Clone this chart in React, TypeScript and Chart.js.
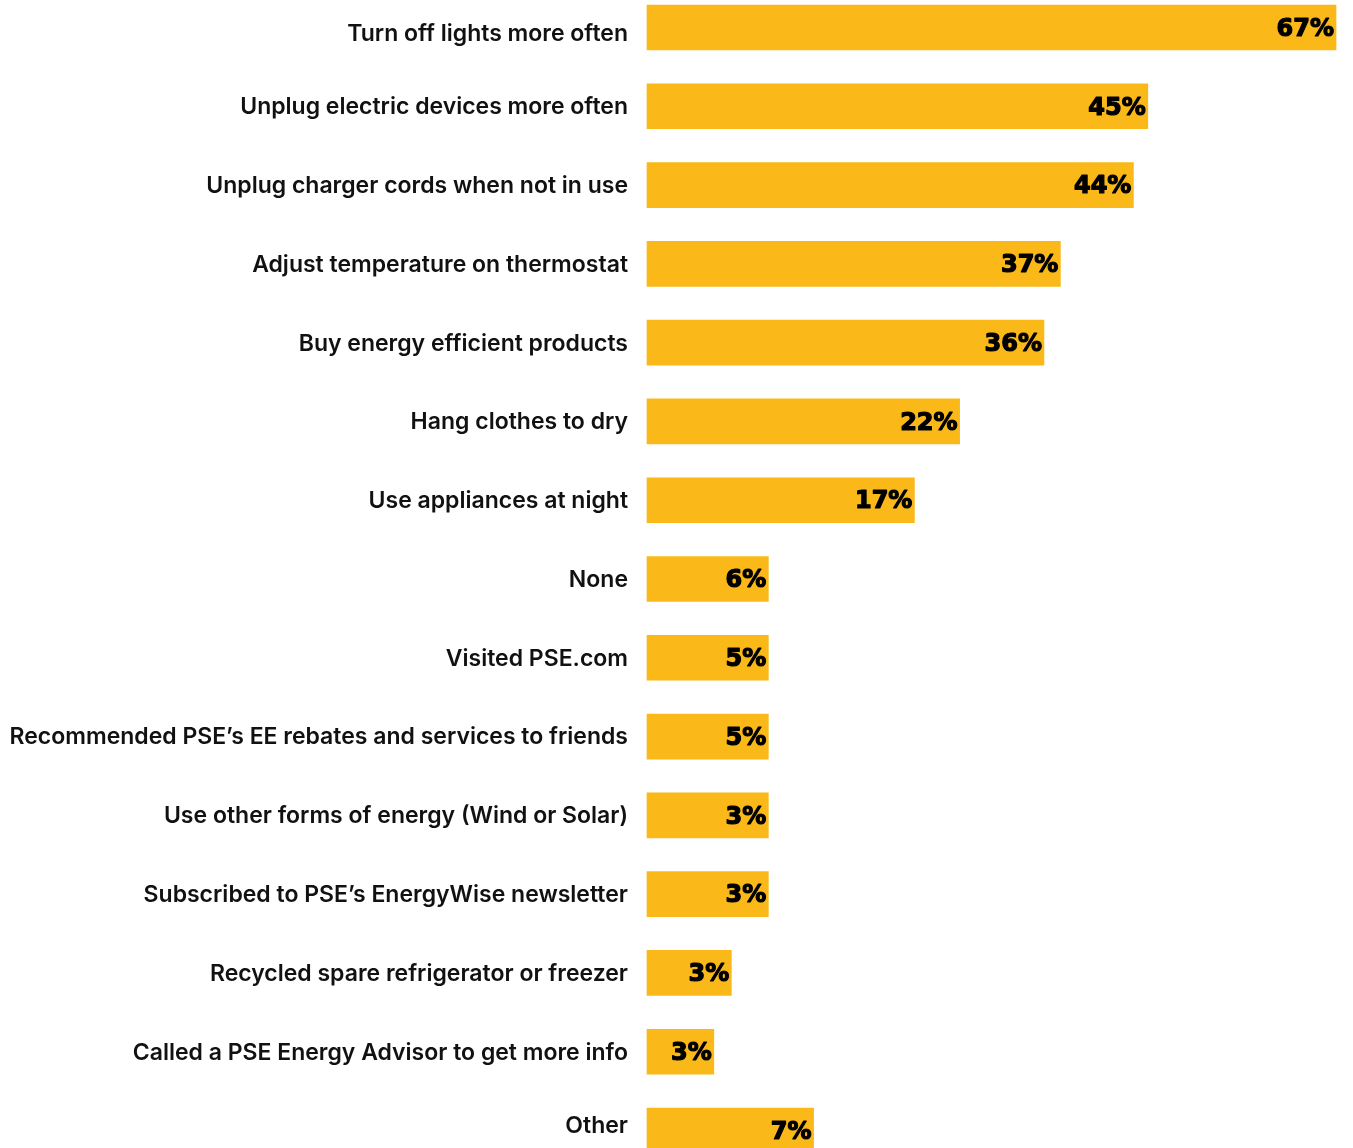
import React, { useEffect, useRef } from "react";
import { Chart, registerables } from "chart.js";

Chart.register(...registerables);

const categories = [
  "Turn off lights more often",
  "Unplug electric devices more often",
  "Unplug charger cords when not in use",
  "Adjust temperature on thermostat",
  "Buy energy efficient products",
  "Hang clothes to dry",
  "Use appliances at night",
  "None",
  "Visited PSE.com",
  "Recommended PSE\u2019s EE rebates and services to friends",
  "Use other forms of energy (Wind or Solar)",
  "Subscribed to PSE\u2019s EnergyWise newsletter",
  "Recycled spare refrigerator or freezer",
  "Called a PSE Energy Advisor to get more info",
  "Other",
];

// Percent shown in each bar's label
const percentLabels = [67, 45, 44, 37, 36, 22, 17, 6, 5, 5, 3, 3, 3, 3, 7];

// Drawn bar lengths as they appear in the picture (same units as the 67% bar)
const barLengths = [67, 48.7, 47.3, 40.2, 38.6, 30.4, 26.0, 11.8, 11.8, 11.8, 11.8, 11.8, 8.2, 6.5, 16.2];

const BAR_COLOR = "#FAB918";

const labelPlugin = {
  id: "labels",
  afterDatasetsDraw(chart: any) {
    const ctx = chart.ctx;
    const meta = chart.getDatasetMeta(0);
    const yScale = chart.scales.y;
    const h = chart.height;
    ctx.save();
    // category labels (kept clear of the canvas top and bottom edges)
    ctx.font = "600 23px Inter";
    ctx.fillStyle = "#111";
    ctx.textAlign = "right";
    ctx.textBaseline = "middle";
    categories.forEach((c, i) => {
      let y = yScale.getPixelForValue(i) + 1;
      y = Math.min(Math.max(y, 34), h - 22);
      ctx.fillText(c, yScale.right - 19, y);
    });
    // value labels
    ctx.font = "bold 24px 'DejaVu Sans'";
    ctx.fillStyle = "#000";
    ctx.strokeStyle = "#000";
    ctx.lineWidth = 1.2;
    ctx.lineJoin = "round";
    meta.data.forEach((bar: any, i: number) => {
      const t = percentLabels[i] + "%";
      ctx.fillText(t, bar.x - 2, bar.y + 2);
      ctx.strokeText(t, bar.x - 2, bar.y + 2);
    });
    ctx.restore();
  },
};

export default function App() {
  const ref = useRef<HTMLCanvasElement | null>(null);
  useEffect(() => {
    if (!ref.current) return;
    const chart = new Chart(ref.current, {
      type: "bar",
      data: {
        labels: categories,
        datasets: [
          {
            data: barLengths,
            backgroundColor: BAR_COLOR,
            barThickness: 45,
            clip: false as any,
          },
        ],
      },
      options: {
        indexAxis: "y",
        animation: false,
        responsive: true,
        maintainAspectRatio: false,
        layout: { padding: { top: 27.5, bottom: 17.5, left: 0, right: 17 } },
        plugins: { legend: { display: false }, tooltip: { enabled: false } },
        scales: {
          x: { display: false, min: 0, max: 67 },
          y: {
            offset: false,
            grid: { display: false, drawTicks: false },
            border: { display: false },
            ticks: { display: false },
            afterFit: (scale: any) => {
              scale.width = 647;
            },
          },
        },
      },
      plugins: [labelPlugin],
    });
    return () => chart.destroy();
  }, []);
  return (
    <div style={{ position: "absolute", left: 0, top: 0, width: 1353, height: 1148, background: "#fff" }}>
      <canvas ref={ref} />
    </div>
  );
}
